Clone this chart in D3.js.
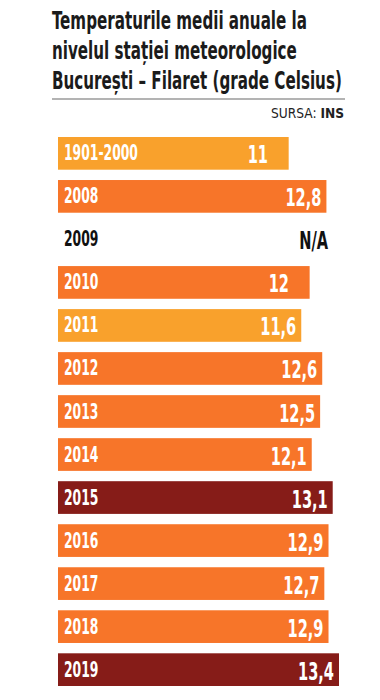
<!DOCTYPE html>
<html>
<head>
<meta charset="utf-8">
<script src="https://cdn.jsdelivr.net/npm/d3@7"></script>
<style>
body { margin: 0; background: #fff; }
text { font-family: "Liberation Sans Narrow", "DejaVu Sans Condensed", sans-serif; font-weight: bold; }
</style>
</head>
<body>
<svg id="chart" width="380" height="700"></svg>
<script>
// data
const titleLines = ['Temperaturile medii anuale la', 'nivelul stației meteorologice', 'București – Filaret (grade Celsius)']
const sourceLabel = 'SURSA: '
const sourceName = 'INS'
const years = ['1901-2000', '2008', '2009', '2010', '2011', '2012', '2013', '2014', '2015', '2016', '2017', '2018', '2019']
const temps = [11, 12.8, null, 12, 11.6, 12.6, 12.5, 12.1, 13.1, 12.9, 12.7, 12.9, 13.4]

let svg = d3.select('#chart')

let x = d3.scaleLinear().domain([0, 13.4]).range([58, 339])
let y = d3.scaleBand().domain(years).range([137, 686]).paddingInner(0.24).paddingOuter(0)

// colour by how warm the year was
let color = d3.scaleThreshold().domain([12, 13]).range(['#f9a12c', '#f77529', '#861c18'])

let rows = years.map((yr, i) => ({ year: yr, temp: temps[i] }))

let fmt = v => v === null ? 'N/A' : String(v).replace('.', ',')

// the installed font is wider than the condensed one in the picture,
// so measure a sample string and squeeze horizontally to its width
let squeezeFor = (str, size, weight, target) => {
    let t = svg.append('text').attr('font-size', size).attr('font-weight', weight).text(str)
    let w = t.node().getComputedTextLength()
    t.remove()
    return target / w
}

let sqTitle = squeezeFor(titleLines[2], 24, 'bold', 290)
let sqYear = squeezeFor('1901-2000', 22, 'bold', 74)
let sqVal = squeezeFor('12,8', 24, 'bold', 36)

// title
svg.append('g')
    .selectAll('text')
    .data(titleLines)
    .enter()
    .append('text')
    .attr('font-size', 24)
    .attr('fill', '#1b1b1b')
    .attr('transform', (d, i) => `translate(52,${29 + i * 30}) scale(${sqTitle},1)`)
    .text(d => d)

svg.append('line')
    .attr('x1', 52).attr('x2', 345)
    .attr('y1', 99).attr('y2', 99)
    .attr('stroke', '#9a9a9a')
    .attr('stroke-width', 1.5)

let src = svg.append('text')
    .attr('text-anchor', 'end')
    .attr('font-size', 13.5)
    .attr('fill', '#222')
src.append('tspan').attr('font-weight', 'normal').text(sourceLabel)
src.append('tspan').text(sourceName)
let sqSrc = 73 / src.node().getComputedTextLength()
src.attr('transform', `translate(344,118) scale(${sqSrc},1)`)

// bars
let bars = svg.selectAll('.bar')
    .data(rows)
    .enter()
    .append('g')
    .attr('class', 'bar')

bars.filter(d => d.temp !== null)
    .append('rect')
    .attr('x', x(0))
    .attr('y', d => y(d.year))
    .attr('width', d => x(d.temp) - x(0))
    .attr('height', y.bandwidth())
    .attr('fill', d => color(d.temp))

bars.append('text')
    .attr('transform', d => `translate(64,${y(d.year) + y.bandwidth() / 2 + 7}) scale(${sqYear},1)`)
    .attr('font-size', 22)
    .attr('fill', d => d.temp === null ? '#111' : '#fff')
    .text(d => d.year)

let vals = bars.append('text')
    .attr('transform', d => {
        let xr = d.temp === null ? 328 : x(d.temp) - 5
        return `translate(${xr},${y(d.year) + y.bandwidth() / 2 + 10}) scale(${sqVal},1)`
    })
    .attr('text-anchor', 'end')
    .attr('font-size', 24)
    .attr('fill', d => d.temp === null ? '#111' : '#fff')
vals.append('tspan').text(d => fmt(d.temp))
// whole numbers sit where a ",0" would have been, like in the original
vals.filter(d => d.temp !== null && Number.isInteger(d.temp))
    .append('tspan')
    .attr('fill-opacity', 0)
    .text(',0')
</script>
</body>
</html>
